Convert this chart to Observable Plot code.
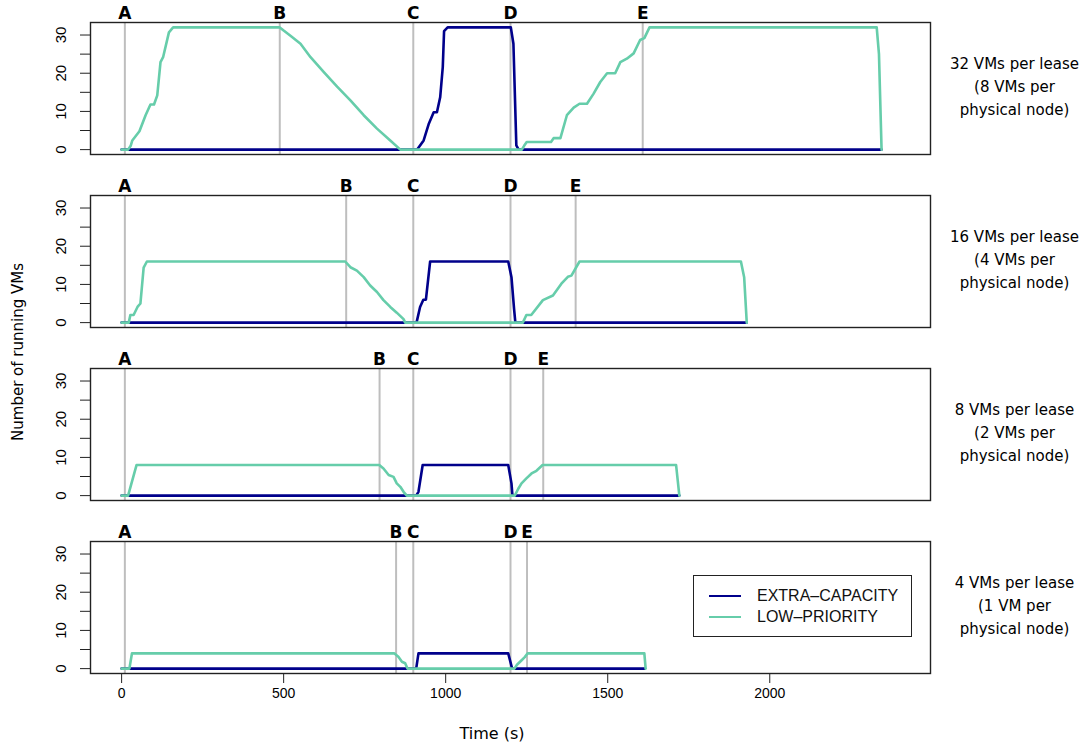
<!DOCTYPE html>
<html>
<head>
<meta charset="utf-8">
<script src="https://cdn.jsdelivr.net/npm/d3@7"></script>
<script src="https://cdn.jsdelivr.net/npm/@observablehq/plot@0.6"></script>
<style>
  html, body { margin: 0; padding: 0; background: #fff; }
  #wrap { position: relative; width: 1085px; height: 744px; overflow: hidden; }
  #chart { position: absolute; left: 0; top: 0; }
  .ytitle { position: absolute; left: 18px; top: 352px; transform: translate(-50%, -50%) rotate(-90deg);
            white-space: nowrap; font-family: "DejaVu Sans", sans-serif; font-size: 15px; color: #000; }
  .xtitle { position: absolute; left: 492px; top: 733px; transform: translate(-50%, -50%);
            white-space: nowrap; font-family: "DejaVu Sans", sans-serif; font-size: 16px; color: #000; }
  .legend { position: absolute; left: 693px; top: 575px; width: 217px; height: 60px; border: 1.5px solid #222;
            font-family: "Liberation Sans", sans-serif; font-size: 16px; color: #111; background: #fff; }
  .legend .swatch { position: absolute; left: 15px; width: 32px; height: 0; border-top: 2px solid; }
  .legend .label { position: absolute; left: 63px; line-height: 18px; white-space: nowrap; }
</style>
</head>
<body>
<div id="wrap">
  <div id="chart"></div>
  <div class="ytitle">Number of running VMs</div>
  <div class="xtitle">Time (s)</div>
  <div class="legend" id="legend"></div>
</div>
<script>
// ---- data ----
const panelKeys = ["32", "16", "8", "4"];
const panelLabels = [
  "32 VMs per lease\n(8 VMs per\nphysical node)",
  "16 VMs per lease\n(4 VMs per\nphysical node)",
  "8 VMs per lease\n(2 VMs per\nphysical node)",
  "4 VMs per lease\n(1 VM per\nphysical node)"
];
const seriesNames = ["EXTRA\u2013CAPACITY", "LOW\u2013PRIORITY"];
const seriesColors = ["#00008B", "#66CDAA"];

const eventNames = ["A", "B", "C", "D", "E"];
const events32 = [10, 488, 900, 1200, 1608];
const events16 = [10, 693, 900, 1200, 1401];
const events8  = [10, 796, 900, 1200, 1301];
const events4  = [10, 847, 900, 1200, 1251];

// [time (s), running VMs]
const extra32 = [[0,0],[912,0],[932,2.4],[948,6.8],[963,9.8],[973,9.8],[983,13.7],[991,21.6],[995,31],[1006,32],[1201,32],[1209,27.7],[1218,1.1],[1225,0],[2345,0]];
const low32 = [[0,0],[20,0],[28,1],[33,2.4],[55,4.8],[74,9],[89,11.8],[100,11.8],[110,14.2],[120,22.9],[128,24.2],[146,30.7],[159,32],[488,32],[501,31.1],[521,29.8],[552,27.7],[583,24.2],[624,20.3],[665,16.5],[706,12.9],[747,9],[788,5.5],[829,2.4],[860,0],[1235,0],[1242,1],[1250,2],[1325,2],[1333,3],[1354,3],[1374,9],[1395,11],[1413,12],[1436,12],[1456,14.6],[1477,17.7],[1498,20],[1523,20],[1539,22.9],[1559,23.8],[1580,25.2],[1600,28.7],[1613,29.2],[1629,32],[2330,32],[2337,25],[2345,0]];

const extra16 = [[0,0],[910,0],[921,4.1],[931,6],[939,6],[952,16],[1193,16],[1203,11.9],[1211,3.6],[1215,0],[1929,0]];
const low16 = [[0,0],[22,0],[27,2],[37,2],[49,4.1],[58,5],[68,14.4],[78,16],[690,16],[706,14.5],[726,13.6],[747,11.9],[767,9.7],[788,8],[808,5.9],[829,4.1],[849,2.6],[870,0.9],[875,0],[1238,0],[1249,2],[1264,2],[1300,5.9],[1331,7.1],[1357,10.2],[1377,12],[1388,12.3],[1413,16],[1911,16],[1921,11.9],[1929,0]];

const extra8 = [[0,0],[909,0],[916,1],[929,8],[1193,8],[1203,3.2],[1206,0],[1721,0]];
const low8 = [[0,0],[20,0],[46,8],[795,8],[808,7.1],[824,5.4],[839,4.9],[849,3.2],[860,2.3],[870,1],[880,0],[1213,0],[1224,1.8],[1234,3.2],[1249,4.5],[1265,5.8],[1280,6.5],[1299,8],[1711,8],[1721,0]];

const extra4 = [[0,0],[909,0],[916,4],[1193,4],[1205,0],[1615,0]];
const low4 = [[0,0],[24,0],[32,4],[841,4],[854,3.1],[865,1.8],[875,1.4],[882,0],[1212,0],[1220,1],[1232,2],[1244,3],[1253,4],[1613,4],[1617,0]];

const xTicks = [0, 500, 1000, 1500, 2000];
const yTicks = [0, 5, 10, 15, 20, 25, 30];
const yTickLabels = [0, 10, 20, 30];

// ---- tables built from the arrays ----
const extraByPanel = [extra32, extra16, extra8, extra4];
const lowByPanel = [low32, low16, low8, low4];
const eventsByPanel = [events32, events16, events8, events4];

const extraRows = [], lowRows = [], eventRows = [], labelRows = [];
panelKeys.forEach((k, i) => {
  extraByPanel[i].forEach(([t, v]) => extraRows.push({panel: k, t, v}));
  lowByPanel[i].forEach(([t, v]) => lowRows.push({panel: k, t, v}));
  eventsByPanel[i].forEach((t, j) => eventRows.push({panel: k, t, name: eventNames[j]}));
  labelRows.push({panel: k, text: panelLabels[i]});
});

const chart = Plot.plot({
  width: 1085,
  height: 744,
  marginLeft: 90,
  marginRight: 155,
  marginTop: 22,
  marginBottom: 71,
  x: {domain: [-96, 2496]},
  y: {domain: [-1.28, 33.28]},
  fy: {domain: panelKeys, axis: null, paddingInner: 0.237, paddingOuter: 0},
  style: {fontFamily: "Liberation Sans, sans-serif", fontSize: "14px", color: "#000", background: "#fff", overflow: "visible"},
  marks: [
    Plot.ruleX(eventRows, {x: "t", fy: "panel", stroke: "#BEBEBE", strokeWidth: 2}),
    Plot.line(extraRows, {x: "t", y: "v", fy: "panel", stroke: seriesColors[0], strokeWidth: 2.6, strokeLinejoin: "round"}),
    Plot.line(lowRows, {x: "t", y: "v", fy: "panel", stroke: seriesColors[1], strokeWidth: 2.6, strokeLinejoin: "round"}),
    Plot.frame({stroke: "#222", strokeWidth: 1.4}),
    Plot.text(eventRows, {x: "t", fy: "panel", text: "name", frameAnchor: "top", lineAnchor: "bottom", dy: -4,
      fontFamily: "DejaVu Sans, sans-serif", fontWeight: "bold", fontSize: 17, fill: "#000"}),
    Plot.text(labelRows, {fy: "panel", text: "text", frameAnchor: "right", dx: 84, dy: -4, textAnchor: "middle",
      lineAnchor: "middle", lineHeight: 1.53, fontFamily: "DejaVu Sans, sans-serif", fontSize: 15, fill: "#000"}),
    Plot.axisY({ticks: yTicks, tickSize: 10, tickFormat: () => "", stroke: "#222", label: null}),
    Plot.text(yTickLabels, {y: d => d, text: d => String(d), frameAnchor: "left", dx: -29, rotate: -90,
      textAnchor: "middle", lineAnchor: "middle", fontSize: 15, fill: "#000"}),
    Plot.axisX({ticks: xTicks, tickSize: 10, tickPadding: 5, fontSize: 14, stroke: "#222", label: null,
      tickFormat: d => String(d)})
  ]
});
document.getElementById("chart").appendChild(chart);

// legend (HTML, styled to match)
const legend = document.getElementById("legend");
seriesNames.forEach((name, i) => {
  const sw = document.createElement("span");
  sw.className = "swatch";
  sw.style.borderTopColor = seriesColors[i];
  sw.style.top = (19 + i * 21) + "px";
  const tx = document.createElement("span");
  tx.className = "label";
  tx.textContent = name;
  tx.style.top = (11 + i * 21) + "px";
  legend.appendChild(sw);
  legend.appendChild(tx);
});
</script>
</body>
</html>
